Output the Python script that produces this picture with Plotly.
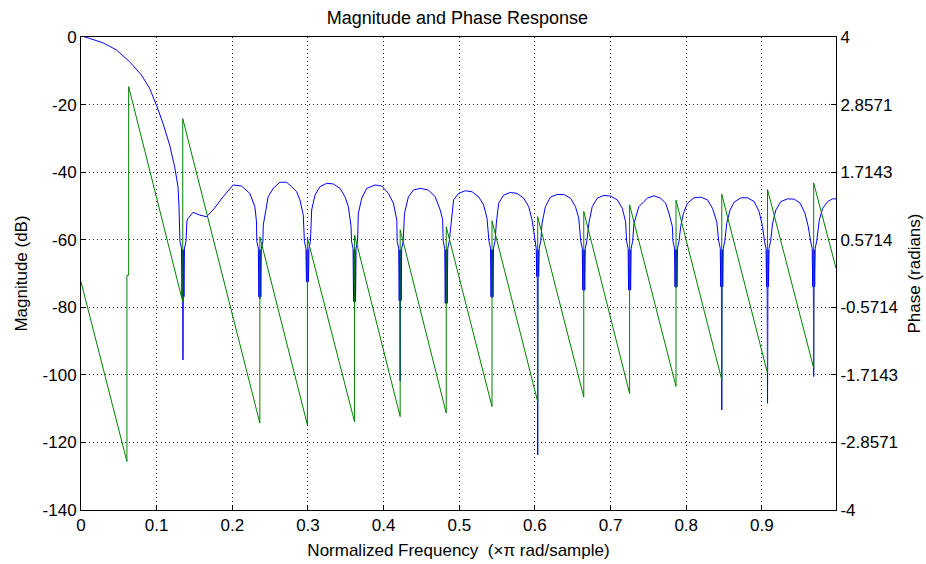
import plotly.graph_objects as go

# magnitude response (normalized frequency, dB)
MAIN_F = [0.0, 0.0143, 0.0289, 0.0466, 0.0642, 0.0797, 0.0907, 0.0996, 0.1083, 0.1172, 0.1238, 0.1282, 0.1295]
MAIN_DB = [0.4, -0.6, -1.7, -3.8, -7.3, -11.2, -15.2, -20.1, -25.5, -32.0, -38.4, -44.3, -50.0]

# zeros of the response: position, depth of the thick part, deepest sample
NULL_F = [0.1348, 0.2364, 0.2993, 0.3616, 0.4219, 0.4828, 0.5433, 0.6037, 0.6646, 0.7252, 0.7865, 0.8470, 0.9075, 0.9685]
NULL_BLOCK_DB = [-76.9, -76.9, -72.4, -78.3, -78.0, -78.8, -76.9, -70.9, -74.9, -74.9, -73.9, -73.9, -73.9, -73.9]
NULL_MIN_DB = [-95.6, -77.5, -72.8, -78.6, -101.8, -79.0, -77.2, -123.7, -75.2, -75.2, -74.2, -110.4, -108.4, -100.5]

# sidelobes, one list after each zero
ARCH_F = [
    [0.1400, 0.1415, 0.1481, 0.1570, 0.1658, 0.1746, 0.1878, 0.2011, 0.2122, 0.2232, 0.2298, 0.2320],
    [0.2410, 0.2474, 0.2540, 0.2629, 0.2718, 0.2784, 0.2850, 0.2894, 0.2938],
    [0.3049, 0.3093, 0.3159, 0.3248, 0.3335, 0.3424, 0.3490, 0.3534, 0.3570],
    [0.3666, 0.3711, 0.3777, 0.3887, 0.3976, 0.4064, 0.4130, 0.4175],
    [0.4276, 0.4328, 0.4395, 0.4483, 0.4593, 0.4682, 0.4748, 0.4780],
    [0.4890, 0.4925, 0.4991, 0.5079, 0.5168, 0.5256, 0.5322, 0.5367],
    [0.5490, 0.5521, 0.5587, 0.5675, 0.5764, 0.5852, 0.5918, 0.5963],
    [0.6095, 0.6139, 0.6205, 0.6294, 0.6381, 0.6470, 0.6536, 0.6580],
    [0.6713, 0.6758, 0.6824, 0.6911, 0.7000, 0.7089, 0.7155, 0.7199],
    [0.7310, 0.7375, 0.7441, 0.7486, 0.7574, 0.7662, 0.7728, 0.7772, 0.7817],
    [0.7927, 0.7963, 0.8016, 0.8103, 0.8192, 0.8281, 0.8347, 0.8404],
    [0.8536, 0.8580, 0.8633, 0.8722, 0.8811, 0.8898, 0.8964, 0.9009],
    [0.9142, 0.9185, 0.9252, 0.9340, 0.9428, 0.9507, 0.9570, 0.9613],
    [0.9759, 0.9804, 0.9870, 0.9936, 0.9980],
]
ARCH_DB = [
    [-54.5, -53.7, -51.9, -52.7, -53.2, -51.2, -47.3, -43.8, -44.1, -46.3, -50.2, -54.7],
    [-55.6, -47.3, -44.8, -43.0, -43.0, -44.3, -45.8, -48.2, -52.7],
    [-51.2, -46.8, -44.3, -43.3, -43.5, -44.8, -47.3, -50.2, -56.1],
    [-52.2, -47.7, -44.8, -43.8, -44.1, -46.3, -49.2, -54.2],
    [-52.2, -47.3, -45.3, -44.8, -45.3, -47.3, -51.2, -54.0],
    [-55.1, -48.2, -46.3, -45.5, -45.8, -47.3, -49.7, -53.7],
    [-55.1, -49.2, -46.8, -46.0, -46.3, -47.7, -50.2, -54.2],
    [-55.1, -50.2, -47.4, -46.6, -46.6, -47.7, -50.2, -53.7],
    [-55.1, -50.2, -47.7, -46.9, -47.1, -48.2, -50.7, -54.7],
    [-55.1, -50.2, -48.7, -47.7, -47.0, -47.7, -49.2, -52.2, -56.1],
    [-56.1, -52.2, -49.2, -47.6, -47.4, -48.2, -50.7, -54.7],
    [-55.1, -51.2, -48.9, -47.6, -47.6, -48.7, -51.7, -56.1],
    [-55.1, -51.2, -48.7, -47.9, -48.0, -49.2, -52.2, -56.1],
    [-54.2, -50.7, -48.7, -47.9, -47.9],
]

# wrapped phase (radians)
PHASE_F = [0.0, 0.0607, 0.0607, 0.0630, 0.0630, 0.1345, 0.1345, 0.2364, 0.2364, 0.2993, 0.2993,
           0.3616, 0.3616, 0.4219, 0.4219, 0.4828, 0.4828, 0.5433, 0.5433, 0.6037, 0.6037,
           0.6646, 0.6646, 0.7252, 0.7252, 0.7865, 0.7865, 0.8470, 0.8470, 0.9075, 0.9075,
           0.9685, 0.9685, 0.9980]
PHASE_RAD = [-0.14, -3.18, -0.03, -0.03, 3.16, -0.48, 2.62, -2.53, 0.62, -2.56, 0.60,
             -2.51, 0.65, -2.42, 0.74, -2.36, 0.79, -2.25, 0.89, -2.17, 0.96,
             -2.09, 1.05, -2.03, 1.16, -1.91, 1.24, -1.80, 1.34, -1.69, 1.42,
             -1.60, 1.53, 0.09]

X_TICKS = [0, 0.1, 0.2, 0.3, 0.4, 0.5, 0.6, 0.7, 0.8, 0.9]
Y_TICKS = [0, -20, -40, -60, -80, -100, -120, -140]
Y2_TICKS = [4, 2.8571, 1.7143, 0.5714, -0.5714, -1.7143, -2.8571, -4]

# width of the thick stem drawn at each zero (in normalized freq)
NOTCH_OFF = [-0.004, -0.002, -0.0013, -0.0006, 0, 0.0006, 0.0013, 0.002, 0.004]

mag_f = list(MAIN_F)
mag_db = list(MAIN_DB)
for f0, blk, lo, af, adb in zip(NULL_F, NULL_BLOCK_DB, NULL_MIN_DB, ARCH_F, ARCH_DB):
    mag_f += [f0 + d for d in NOTCH_OFF]
    mag_db += [-60.5, -62.5, blk, -63, lo, -63, blk, -62.5, -60.5]
    mag_f += af
    mag_db += adb

FONT = 'Liberation Sans, Arial, sans-serif'
grid = dict(showgrid=True, gridcolor='#222222', griddash='1px,3px', gridwidth=1)
axis = dict(showline=True, linecolor='black', linewidth=1, ticks='inside', ticklen=5,
            tickcolor='black', zeroline=False, tickfont=dict(size=17), automargin=False)

fig = go.Figure()
fig.add_trace(go.Scatter(x=mag_f, y=mag_db, mode='lines', line=dict(color='#0000ff', width=1),
                         name='Magnitude', hoverinfo='x+y'))
fig.add_trace(go.Scatter(x=PHASE_F, y=PHASE_RAD, mode='lines', line=dict(color='#008000', width=1),
                         name='Phase', yaxis='y2'))

fig.update_layout(
    width=926, height=564,
    margin=dict(l=81, r=90, t=37, b=54),
    paper_bgcolor='white', plot_bgcolor='white',
    showlegend=False,
    font=dict(family=FONT, size=17, color='black'),
    title=dict(text='Magnitude and Phase Response', x=0.494, xanchor='center',
               y=0.968, yanchor='middle', font=dict(size=18)),
    xaxis=dict(range=[0, 0.998], tickvals=X_TICKS, ticktext=[f'{v:g}' for v in X_TICKS],
               mirror=True, title=dict(text='Normalized Frequency \u00a0(\u00d7\u03c0 rad/sample)',
                                       font=dict(size=17), standoff=9),
               **axis, **grid),
    yaxis=dict(range=[-140, 0], tickvals=Y_TICKS, ticktext=[str(v) for v in Y_TICKS],
               title=dict(text='Magnitude (dB)', font=dict(size=17), standoff=10),
               **axis, **grid),
    yaxis2=dict(range=[-4, 4], tickvals=Y2_TICKS, ticktext=[f'{v:g}' for v in Y2_TICKS],
                overlaying='y', side='right', showgrid=False,
                title=dict(text='Phase (radians)', font=dict(size=17), standoff=11),
                **axis),
)

# the page's default body margin would push the figure 8px off
fig.write_html("out.html", config={'displayModeBar': False},
               post_script="document.body.style.margin='0px';")
